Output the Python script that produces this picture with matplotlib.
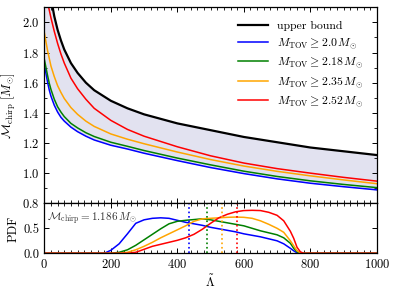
import matplotlib
matplotlib.use("Agg")
import matplotlib.pyplot as plt
from matplotlib.ticker import MultipleLocator

plt.rcParams['font.family'] = 'serif'
plt.rcParams['font.serif'] = ['cmr10', 'DejaVu Serif']
plt.rcParams['mathtext.fontset'] = 'cm'
plt.rcParams['axes.formatter.use_mathtext'] = True
plt.rcParams['axes.unicode_minus'] = False

# ---------------- top panel data ----------------
lam = [0, 5, 10, 15, 20, 30, 40, 50, 60, 80, 100, 125, 150, 200, 250, 300,
       400, 500, 600, 700, 800, 900, 1000]
upper = [2.55, 2.42, 2.32, 2.24, 2.16, 2.04, 1.95, 1.88, 1.82, 1.73, 1.665, 1.60,
         1.55, 1.48, 1.43, 1.39, 1.33, 1.285, 1.24, 1.205, 1.17, 1.145, 1.12]
m_200 = [1.72, 1.66, 1.60, 1.55, 1.51, 1.45, 1.405, 1.37, 1.345, 1.305, 1.275, 1.245,
         1.22, 1.185, 1.16, 1.132, 1.083, 1.037, 0.997, 0.962, 0.933, 0.91, 0.889]
m_218 = [1.755, 1.70, 1.645, 1.595, 1.555, 1.49, 1.44, 1.405, 1.375, 1.33, 1.30, 1.268,
         1.243, 1.205, 1.178, 1.15, 1.10, 1.055, 1.013, 0.978, 0.949, 0.925, 0.904]
m_235 = [1.933, 1.87, 1.81, 1.76, 1.71, 1.64, 1.58, 1.535, 1.495, 1.435, 1.39, 1.345,
         1.31, 1.26, 1.225, 1.195, 1.14, 1.09, 1.047, 1.012, 0.982, 0.955, 0.93]
m_252 = [2.25, 2.19, 2.13, 2.08, 2.03, 1.94, 1.86, 1.79, 1.73, 1.63, 1.56, 1.49,
         1.43, 1.35, 1.29, 1.245, 1.175, 1.115, 1.067, 1.03, 1.00, 0.972, 0.947]

labels = [r'$M_{\rm TOV} \geq 2.0\,M_{\odot}$', r'$M_{\rm TOV} \geq 2.18\,M_{\odot}$',
          r'$M_{\rm TOV} \geq 2.35\,M_{\odot}$', r'$M_{\rm TOV} \geq 2.52\,M_{\odot}$']
colors = ['blue', 'green', 'orange', 'red']

# ---------------- bottom panel data ----------------
lam_pdf = [0, 150, 180, 200, 225, 250, 275, 300, 325, 350, 375, 400, 425, 450, 475,
           500, 525, 550, 575, 600, 625, 650, 675, 700, 720, 740, 750, 760, 770, 780, 1000]
pdf_200 = [0, 0, 0, 0.06, 0.19, 0.39, 0.60, 0.67, 0.70, 0.71, 0.70, 0.66, 0.62, 0.59, 0.56,
           0.52, 0.49, 0.46, 0.43, 0.39, 0.36, 0.33, 0.29, 0.25, 0.19, 0.10, 0.05, 0.01, 0, 0, 0]
pdf_218 = [0, 0, 0, 0, 0.02, 0.07, 0.16, 0.27, 0.38, 0.49, 0.59, 0.64, 0.66, 0.675, 0.69,
           0.67, 0.64, 0.61, 0.58, 0.55, 0.50, 0.45, 0.41, 0.37, 0.31, 0.20, 0.10, 0.03, 0, 0, 0]
pdf_235 = [0, 0, 0, 0, 0, 0.02, 0.07, 0.14, 0.22, 0.31, 0.39, 0.47, 0.55, 0.64, 0.69,
           0.70, 0.71, 0.72, 0.725, 0.72, 0.70, 0.65, 0.58, 0.50, 0.42, 0.25, 0.15, 0.05, 0.01, 0, 0]
pdf_252 = [0, 0, 0, 0, 0, 0, 0.02, 0.08, 0.14, 0.18, 0.22, 0.26, 0.31, 0.38, 0.48,
           0.60, 0.71, 0.78, 0.83, 0.855, 0.86, 0.855, 0.82, 0.76, 0.65, 0.44, 0.30, 0.12, 0.03, 0, 0]
medians = [436, 490, 533, 580]

fig = plt.figure(figsize=(3.95, 2.92), dpi=100)
ax1 = fig.add_axes([0.1122, 0.3038, 0.8418, 0.6712])
ax2 = fig.add_axes([0.1122, 0.1325, 0.8418, 0.1712], sharex=ax1)

ax1.fill_between(lam, m_200, upper, color='#e2e2f0', lw=0)
ax1.plot(lam, upper, color='black', lw=1.6, label='upper bound')
for m, c, lab in zip([m_200, m_218, m_235, m_252], colors, labels):
    ax1.plot(lam, m, color=c, lw=1.1, label=lab)

ax1.set_xlim(0, 1000)
ax1.set_ylim(0.8, 2.1)
ax1.set_ylabel(r'$\mathcal{M}_{\rm chirp}\ [M_{\odot}]$', fontsize=9, labelpad=3)
ax1.yaxis.set_major_locator(MultipleLocator(0.2))
ax1.yaxis.set_minor_locator(MultipleLocator(0.1))
ax1.xaxis.set_major_locator(MultipleLocator(200))
ax1.xaxis.set_minor_locator(MultipleLocator(20))
ax1.tick_params(axis='x', labelbottom=False)
leg = ax1.legend(loc='upper right', frameon=False, fontsize=8.5, handlelength=2.5,
                 handletextpad=0.8, labelspacing=0.42, borderaxespad=0.75)

for m, c in zip([pdf_200, pdf_218, pdf_235, pdf_252], colors):
    ax2.plot(lam_pdf, m, color=c, lw=1.1)
for v, c in zip(medians, colors):
    ax2.axvline(v, color=c, ls=':', lw=1.2)
ax2.set_ylim(0, 1.0)
ax2.set_yticks([0, 0.5])
ax2.set_yticklabels(['0.0', '0.5'])
ax2.set_ylabel('PDF', fontsize=9, labelpad=3)
ax2.set_xlabel(r'$\tilde{\Lambda}$', fontsize=9, labelpad=2)
ax2.text(8, 0.70, r'$\mathcal{M}_{\rm chirp} = 1.186\,M_{\odot}$', fontsize=8,
         va='center', ha='left', color='#333333')

for ax in (ax1, ax2):
    ax.tick_params(which='both', direction='in', top=True, right=True, labelsize=9)
    ax.tick_params(which='major', length=3.5, width=0.7)
    ax.tick_params(which='minor', length=2, width=0.6)
    for s in ax.spines.values():
        s.set_linewidth(0.9)

fig.savefig('out.png', dpi=100)
